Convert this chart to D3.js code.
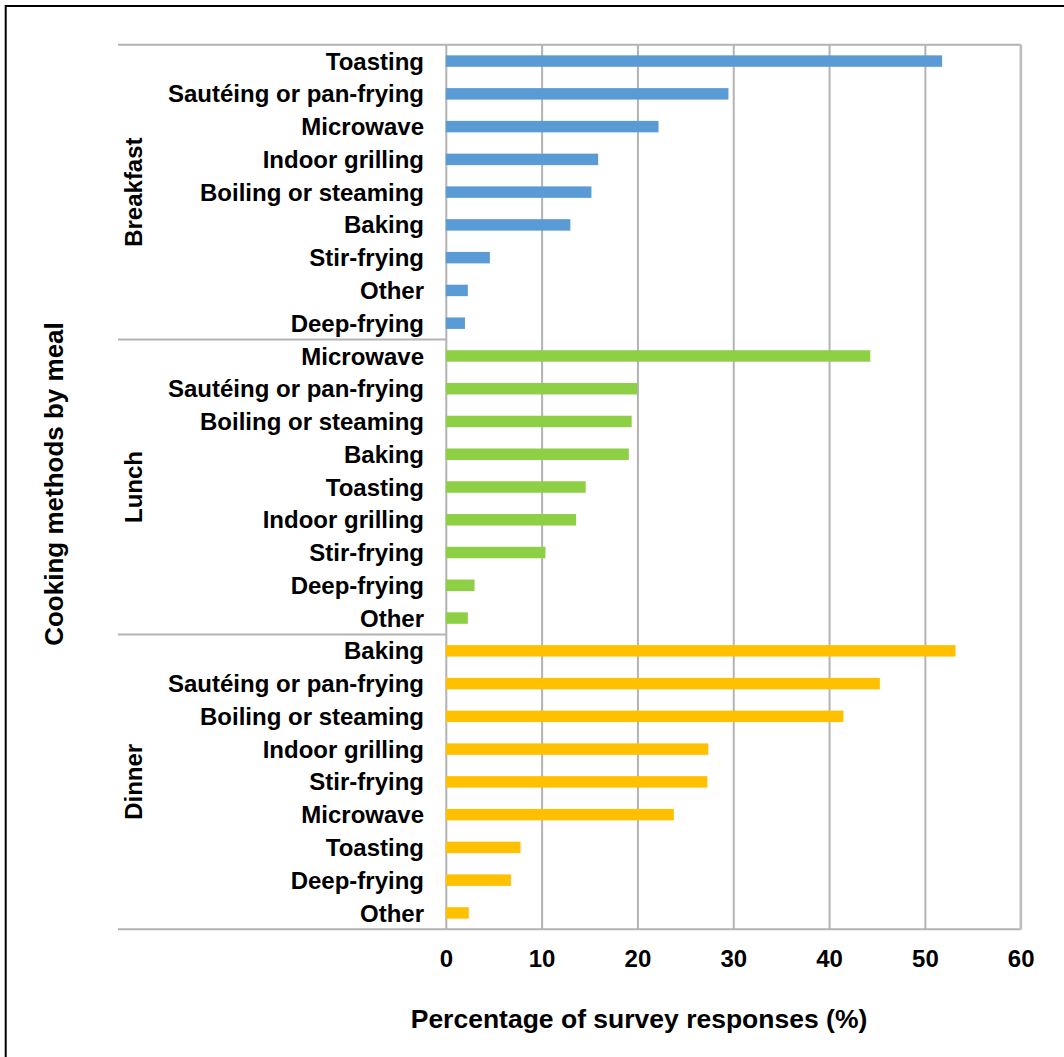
<!DOCTYPE html>
<html>
<head>
<meta charset="utf-8">
<script src="https://cdn.jsdelivr.net/npm/d3@7"></script>
<style>
  html, body { margin: 0; padding: 0; background: #ffffff; }
  svg { display: block; }
  text { font-family: "Liberation Sans", Arial, sans-serif; font-weight: bold; fill: #000; }
</style>
</head>
<body>
<svg id="chart" width="1064" height="1057"></svg>
<script>
// ---- Data ----
const meals = ["Breakfast", "Lunch", "Dinner"];

const breakfastMethods = ["Toasting", "Sautéing or pan-frying", "Microwave", "Indoor grilling", "Boiling or steaming", "Baking", "Stir-frying", "Other", "Deep-frying"];
const breakfastValues  = [51.8, 29.5, 22.2, 15.9, 15.2, 13.0, 4.6, 2.3, 2.0];

const lunchMethods = ["Microwave", "Sautéing or pan-frying", "Boiling or steaming", "Baking", "Toasting", "Indoor grilling", "Stir-frying", "Deep-frying", "Other"];
const lunchValues  = [44.3, 20.0, 19.4, 19.1, 14.6, 13.6, 10.4, 3.0, 2.3];

const dinnerMethods = ["Baking", "Sautéing or pan-frying", "Boiling or steaming", "Indoor grilling", "Stir-frying", "Microwave", "Toasting", "Deep-frying", "Other"];
const dinnerValues  = [53.2, 45.3, 41.5, 27.4, 27.3, 23.8, 7.8, 6.8, 2.4];

const xTicks = [0, 10, 20, 30, 40, 50, 60];
const xTitle = "Percentage of survey responses (%)";
const yTitle = "Cooking methods by meal";

// ---- Build rows ----
const mealMethods = [breakfastMethods, lunchMethods, dinnerMethods];
const mealValues = [breakfastValues, lunchValues, dinnerValues];
const mealColors = ["#5b9bd5", "#8dcf45", "#ffc000"];

const rows = [];
meals.forEach((m, i) => {
  mealMethods[i].forEach((method, j) => {
    rows.push({ key: m + "|" + method, meal: m, mealIndex: i, method: method, value: mealValues[i][j] });
  });
});

// ---- Layout ----
const svg = d3.select("#chart");
const plotLeft = 445.8, plotRight = 1020.7, plotTop = 44.7, plotBottom = 929.3;
const catLeft = 118;
const gridColor = "#b3b3b3";

const x = d3.scaleLinear().domain([0, 60]).range([plotLeft, plotRight]);
const y = d3.scaleBand().domain(rows.map(d => d.key)).range([plotTop, plotBottom])
  .paddingInner(0.65).paddingOuter(0.325);

// outer frame (only left & top visible in original)
svg.append("rect").attr("x", 5.7).attr("y", 6).attr("width", 1200).attr("height", 1200)
  .attr("fill", "none").attr("stroke", "#000").attr("stroke-width", 2);

// gridlines + tick labels via axis
const xAxis = d3.axisBottom(x).tickValues(xTicks).tickSize(-(plotBottom - plotTop)).tickFormat(d3.format("d"));
const gx = svg.append("g").attr("transform", `translate(0,${plotBottom})`).call(xAxis);
gx.select(".domain").remove();
gx.selectAll(".tick line").attr("stroke", gridColor).attr("stroke-width", 2);
gx.selectAll(".tick text")
  .attr("y", 37.4).attr("dy", null)
  .style("font-size", "24px").style("font-family", "'Liberation Sans', Arial, sans-serif")
  .style("font-weight", "bold").attr("fill", "#000");

// bars
svg.append("g").selectAll("rect").data(rows).join("rect")
  .attr("x", x(0))
  .attr("y", d => y(d.key))
  .attr("width", d => x(d.value) - x(0))
  .attr("height", y.bandwidth())
  .attr("fill", d => mealColors[d.mealIndex]);

// axis frame lines
const step = y.step();
const groupEdges = [0, 9, 18, 27].map(n => plotTop + n * step);
svg.append("g").selectAll("line").data(groupEdges).join("line")
  .attr("x1", catLeft).attr("x2", (d, i) => (i === 0 || i === 3) ? plotRight : plotLeft)
  .attr("y1", d => d).attr("y2", d => d)
  .attr("stroke", gridColor).attr("stroke-width", 2);
// right border
svg.append("line").attr("x1", plotRight).attr("x2", plotRight).attr("y1", plotTop).attr("y2", plotBottom)
  .attr("stroke", "#bfbfbf").attr("stroke-width", 2.5);

// category labels
const labelSize = 24;
svg.append("g").selectAll("text").data(rows).join("text")
  .attr("x", 424)
  .attr("y", d => y(d.key) + y.bandwidth() / 2 + labelSize * 0.716 / 2)
  .attr("text-anchor", "end")
  .style("font-size", labelSize + "px")
  .text(d => d.method);

// meal group labels
svg.append("g").selectAll("text").data(meals).join("text")
  .attr("transform", (d, i) => `translate(142,${(groupEdges[i] + groupEdges[i + 1]) / 2}) rotate(-90)`)
  .attr("text-anchor", "middle")
  .style("font-size", "24px")
  .text(d => d);

// axis titles
svg.append("text")
  .attr("transform", `translate(63,${(plotTop + plotBottom) / 2 - 3}) rotate(-90)`)
  .attr("text-anchor", "middle")
  .style("font-size", "26px")
  .text(yTitle);

svg.append("text")
  .attr("x", 639).attr("y", 1028)
  .attr("text-anchor", "middle")
  .style("font-size", "26.5px")
  .text(xTitle);
</script>
</body>
</html>
